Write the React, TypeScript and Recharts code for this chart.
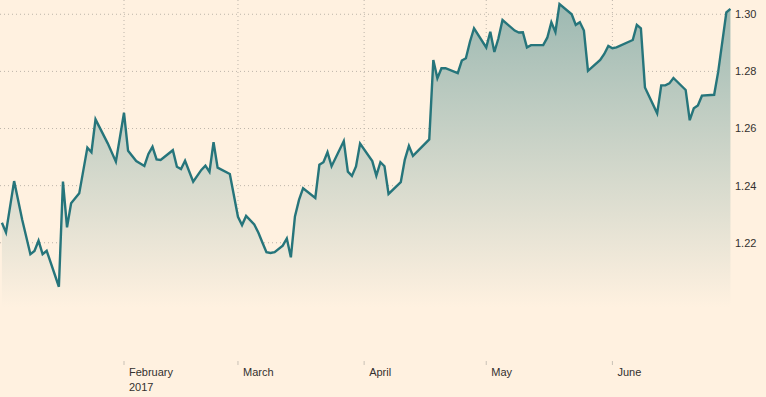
import React from 'react';
import { AreaChart, Area, XAxis, YAxis, CartesianGrid } from 'recharts';

const dates: string[] = [
  '2017-01-02','2017-01-03','2017-01-05','2017-01-07','2017-01-09','2017-01-10','2017-01-11','2017-01-12','2017-01-13',
  '2017-01-16','2017-01-17','2017-01-18','2017-01-19','2017-01-21','2017-01-23','2017-01-24','2017-01-25','2017-01-28',
  '2017-01-30','2017-02-01','2017-02-02','2017-02-04','2017-02-06','2017-02-07','2017-02-08','2017-02-09','2017-02-10',
  '2017-02-13','2017-02-14','2017-02-15','2017-02-16','2017-02-18','2017-02-20','2017-02-21','2017-02-22','2017-02-23',
  '2017-02-24','2017-02-27','2017-03-01','2017-03-02','2017-03-03','2017-03-05','2017-03-06','2017-03-07','2017-03-08',
  '2017-03-09','2017-03-10','2017-03-12','2017-03-13','2017-03-14','2017-03-15','2017-03-16','2017-03-17','2017-03-20',
  '2017-03-21','2017-03-22','2017-03-23','2017-03-24','2017-03-27','2017-03-28','2017-03-29','2017-03-30','2017-03-31',
  '2017-04-03','2017-04-04','2017-04-05','2017-04-06','2017-04-07','2017-04-10','2017-04-11','2017-04-12','2017-04-13',
  '2017-04-17','2017-04-18','2017-04-19','2017-04-20','2017-04-21','2017-04-24','2017-04-25','2017-04-26','2017-04-27',
  '2017-04-28','2017-05-01','2017-05-02','2017-05-03','2017-05-04','2017-05-05','2017-05-08','2017-05-09','2017-05-10',
  '2017-05-11','2017-05-12','2017-05-15','2017-05-16','2017-05-17','2017-05-18','2017-05-19','2017-05-22','2017-05-23',
  '2017-05-24','2017-05-25','2017-05-26','2017-05-29','2017-05-30','2017-05-31','2017-06-01','2017-06-02','2017-06-06',
  '2017-06-07','2017-06-08','2017-06-09','2017-06-12','2017-06-13','2017-06-14','2017-06-15','2017-06-16','2017-06-19',
  '2017-06-20','2017-06-21','2017-06-22','2017-06-23','2017-06-26','2017-06-27','2017-06-29','2017-06-30',
];

const rates: number[] = [
  1.2270, 1.2236, 1.2416, 1.2280, 1.2160, 1.2171, 1.2207, 1.2160, 1.2172,
  1.2046, 1.2414, 1.2254, 1.2338, 1.2373, 1.2533, 1.2517, 1.2632, 1.2548,
  1.2484, 1.2655, 1.2522, 1.2486, 1.2469, 1.2511, 1.2536, 1.2492, 1.2490,
  1.2524, 1.2466, 1.2458, 1.2487, 1.2414, 1.2455, 1.2470, 1.2448, 1.2552,
  1.2463, 1.2441, 1.2291, 1.2262, 1.2294, 1.2264, 1.2236, 1.2201, 1.2167,
  1.2164, 1.2167, 1.2190, 1.2215, 1.2149, 1.2292, 1.2350, 1.2391, 1.2357,
  1.2473, 1.2482, 1.2517, 1.2468, 1.2556, 1.2449, 1.2434, 1.2467, 1.2547,
  1.2486, 1.2435, 1.2482, 1.2468, 1.2371, 1.2412, 1.2491, 1.2539, 1.2504,
  1.2562, 1.2840, 1.2776, 1.2811, 1.2811, 1.2794, 1.2838, 1.2846, 1.2904,
  1.2951, 1.2884, 1.2939, 1.2868, 1.2916, 1.2980, 1.2943, 1.2936, 1.2937,
  1.2884, 1.2892, 1.2892, 1.2918, 1.2972, 1.2938, 1.3036, 1.3000, 1.2963,
  1.2972, 1.2943, 1.2802, 1.2840, 1.2861, 1.2889, 1.2881, 1.2884, 1.2910,
  1.2963, 1.2951, 1.2744, 1.2653, 1.2751, 1.2751, 1.2758, 1.2777, 1.2735,
  1.2629, 1.2671, 1.2681, 1.2715, 1.2718, 1.2799, 1.3007, 1.3019,
];

const monthTickDates: string[] = ['2017-02-01', '2017-03-01', '2017-04-01', '2017-05-01', '2017-06-01'];
const monthTickLabels: string[] = ['February\n2017', 'March', 'April', 'May', 'June'];
const yTicks: number[] = [1.22, 1.24, 1.26, 1.28, 1.3];

const ORIGIN = Date.UTC(2017, 0, 1);
const toDay = (s: string) => {
  const [y, m, d] = s.split('-').map(Number);
  return (Date.UTC(y, m - 1, d) - ORIGIN) / 86400000;
};

const data = dates.map((d, i) => ({ day: toDay(d), rate: rates[i] }));
const monthTickDays = monthTickDates.map(toDay);

const BG = '#FFF1E0';
const TEXT = '#33302E';
const FONT = '"Liberation Sans", Arial, sans-serif';

const MonthTick = (props: any) => {
  const { x, y, payload } = props;
  const idx = monthTickDays.findIndex((v) => Math.abs(v - payload.value) < 1e-6);
  const label = idx >= 0 ? monthTickLabels[idx] : '';
  return (
    <g>
      {label.split('\n').map((line, k) => (
        <text key={k} x={x + 5} y={y + 9 + k * 15} fill={TEXT} fontSize={11} fontFamily={FONT} textAnchor="start">
          {line}
        </text>
      ))}
    </g>
  );
};

export default function App() {
  return (
    <div style={{ position: 'absolute', left: 0, top: 0, width: 766, height: 397, background: BG }}>
      <AreaChart width={766} height={397} data={data} margin={{ top: 0, right: 0, bottom: 0, left: 0 }}>
        <defs>
          <linearGradient id="fillGrad" x1="0" y1="0" x2="0" y2="1">
            <stop offset="0%" stopColor="#9DB9B2" stopOpacity={1} />
            <stop offset="85%" stopColor={BG} stopOpacity={1} />
            <stop offset="100%" stopColor={BG} stopOpacity={1} />
          </linearGradient>
        </defs>
        <CartesianGrid
          stroke="#BDB5AA"
          strokeDasharray="1 3"
          horizontalValues={yTicks}
          verticalValues={monthTickDays}
        />
        <XAxis
          dataKey="day"
          type="number"
          domain={[0.53, 180.14]}
          ticks={monthTickDays}
          tick={<MonthTick />}
          tickLine={{ stroke: '#C9C1B6' }}
          tickSize={4}
          tickMargin={2}
          axisLine={false}
          height={36}
          allowDataOverflow
        />
        <YAxis
          orientation="right"
          type="number"
          domain={[1.1786, 1.305]}
          ticks={yTicks}
          tickFormatter={(v: number) => v.toFixed(2)}
          tick={{ fill: TEXT, fontSize: 11, fontFamily: FONT }}
          tickLine={false}
          axisLine={false}
          tickSize={2}
          tickMargin={2}
          width={35}
          allowDataOverflow
        />
        <Area
          type="linear"
          dataKey="rate"
          stroke="#26757B"
          strokeWidth={2.4}
          fill="url(#fillGrad)"
          fillOpacity={1}
          dot={false}
          activeDot={false}
          isAnimationActive={false}
        />
      </AreaChart>
    </div>
  );
}
